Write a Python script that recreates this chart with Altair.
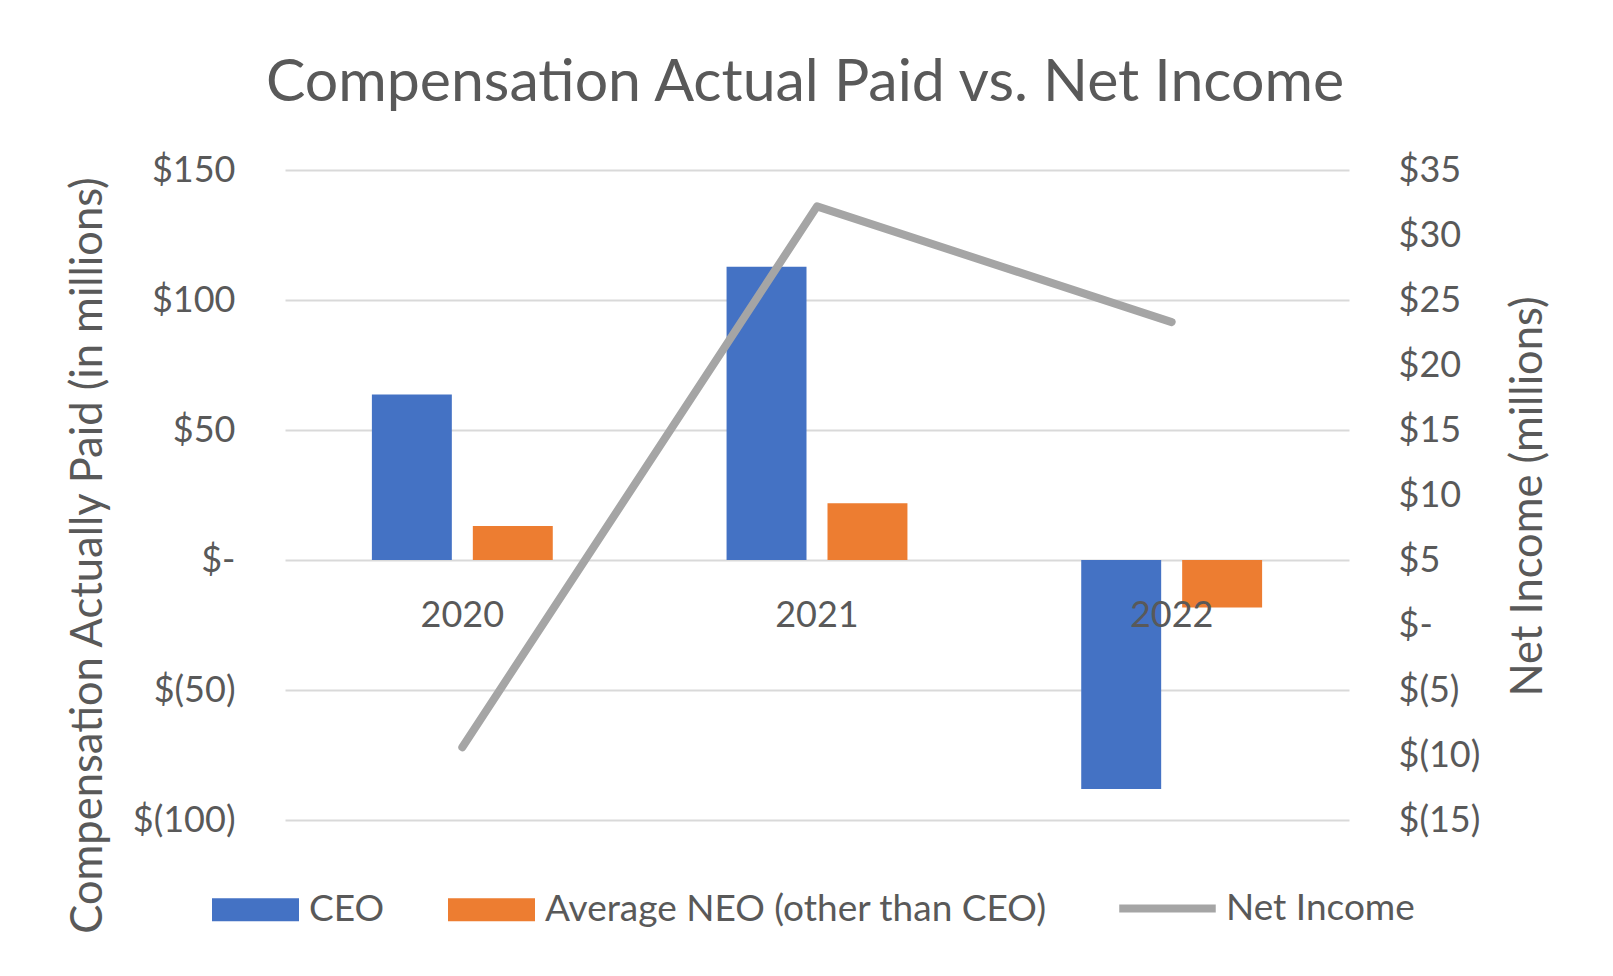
import altair as alt
import pandas as pd

# ---- data ----
years = ["2020", "2021", "2022"]
bar_series = ["CEO", "Average NEO (other than CEO)"]
ceo_cap = [63.7, 112.8, -88.1]          # Compensation Actually Paid, $M
neo_cap = [13.1, 21.8, -18.3]           # Average NEO CAP, $M
line_series = ["Net Income"]
net_income = [-9.4, 32.2, 23.3]         # Net income, $M
left_ticks = [-100, -50, 0, 50, 100, 150]
right_ticks = [-15, -10, -5, 0, 5, 10, 15, 20, 25, 30, 35]

bar_colors = ["#4472C4", "#ED7D31"]
line_colors = ["#A5A5A5"]
FONT = "Lato"
TXT = "#595959"
GRID = "#D9D9D9"

bars_df = pd.DataFrame({
    "year": years * 2,
    "series": [bar_series[0]] * len(years) + [bar_series[1]] * len(years),
    "value": ceo_cap + neo_cap,
})
line_df = pd.DataFrame({
    "year": years,
    "series": line_series * len(years),
    "net": net_income,
})

x_scale = alt.Scale(domain=years, paddingInner=0.49, paddingOuter=0.245)
x_axis = alt.Axis(orient="bottom", offset=-260, domain=False, ticks=False, tickSize=0,
                  labelPadding=66, labelBaseline="alphabetic", labelFont=FONT,
                  labelFontSize=36, labelColor=TXT, labelAngle=0, grid=False, zindex=1)

NB = "\u00a0"
left_expr = (
    f"datum.value == 0 ? '$-{NB}' : datum.value < 0 ? '$(' + format(-datum.value, 'd') + ')' "
    f": '$' + format(datum.value, 'd') + '{NB}'"
)
right_expr = (
    "datum.value == 0 ? '$-' : datum.value < 0 ? '$(' + format(-datum.value, 'd') + ')' "
    ": '$' + format(datum.value, 'd')"
)

bar_legend = alt.Legend(
    orient="none", legendX=-73, legendY=696, direction="horizontal", title=None,
    labelFont=FONT, labelFontSize=37, labelColor=TXT, labelOffset=10, labelLimit=1000,
    symbolType="M-1,-0.264H1V0.264H-1Z", symbolSize=7569, symbolStrokeWidth=0,
    columnPadding=63,
)
line_legend = alt.Legend(
    orient="none", legendX=830, legendY=686, direction="horizontal", title=None,
    labelFont=FONT, labelFontSize=37, labelColor=TXT, labelOffset=6, labelLimit=1000,
    symbolType="stroke", symbolSize=9312, symbolStrokeWidth=8,
)

bars = alt.Chart(bars_df).mark_bar().encode(
    x=alt.X("year:N", scale=x_scale, title=None, sort=years, axis=x_axis),
    xOffset=alt.XOffset("series:N", sort=bar_series,
                        scale=alt.Scale(domain=bar_series, paddingInner=0.208, paddingOuter=0)),
    y=alt.Y("value:Q", scale=alt.Scale(domain=[left_ticks[0], left_ticks[-1]], nice=False),
            axis=alt.Axis(values=left_ticks, labelExpr=left_expr, grid=True, gridColor=GRID,
                          gridWidth=2, domain=False, ticks=False, tickSize=0, labelPadding=50,
                          labelFont=FONT, labelFontSize=36, labelColor=TXT,
                          title="Compensation Actually Paid (in millions)", titleFont=FONT,
                          titleFontSize=43.5, titleFontWeight="normal", titleColor=TXT,
                          titleAngle=270, titleX=-197, titleY=385, titleBaseline="middle",
                          titleAlign="center")),
    fill=alt.Fill("series:N", sort=bar_series,
                  scale=alt.Scale(domain=bar_series, range=bar_colors), legend=bar_legend),
)

line = alt.Chart(line_df).mark_line(strokeWidth=8, strokeCap="round", strokeJoin="round").encode(
    x=alt.X("year:N", scale=x_scale, title=None, sort=years, axis=x_axis),
    y=alt.Y("net:Q", scale=alt.Scale(domain=[right_ticks[0], right_ticks[-1]], nice=False),
            axis=alt.Axis(orient="right", values=right_ticks, labelExpr=right_expr, grid=False,
                          domain=False, ticks=False, tickSize=0, labelPadding=49,
                          labelFont=FONT, labelFontSize=36, labelColor=TXT,
                          title="Net Income (millions)", titleFont=FONT, titleFontSize=43.5,
                          titleFontWeight="normal", titleColor=TXT, titleAngle=270,
                          titleX=179, titleY=326, titleBaseline="middle", titleAlign="center")),
    stroke=alt.Stroke("series:N", scale=alt.Scale(domain=line_series, range=line_colors),
                      legend=line_legend),
)

chart = alt.layer(bars, line).resolve_scale(y="independent").properties(
    width=1064, height=650,
    padding={"left": 277, "top": 162, "right": 256, "bottom": 146},
    autosize=alt.AutoSizeParams(type="none"),
    background="white",
    title=alt.TitleParams("Compensation Actual Paid vs. Net Income", font=FONT, fontSize=59,
                          fontWeight="normal", color=TXT, anchor="middle", baseline="alphabetic",
                          offset=49, dx=-12, dy=57),
).configure_view(strokeWidth=0, strokeOpacity=0)

chart.save("out.html", embed_options={"renderer": "svg", "actions": False})
